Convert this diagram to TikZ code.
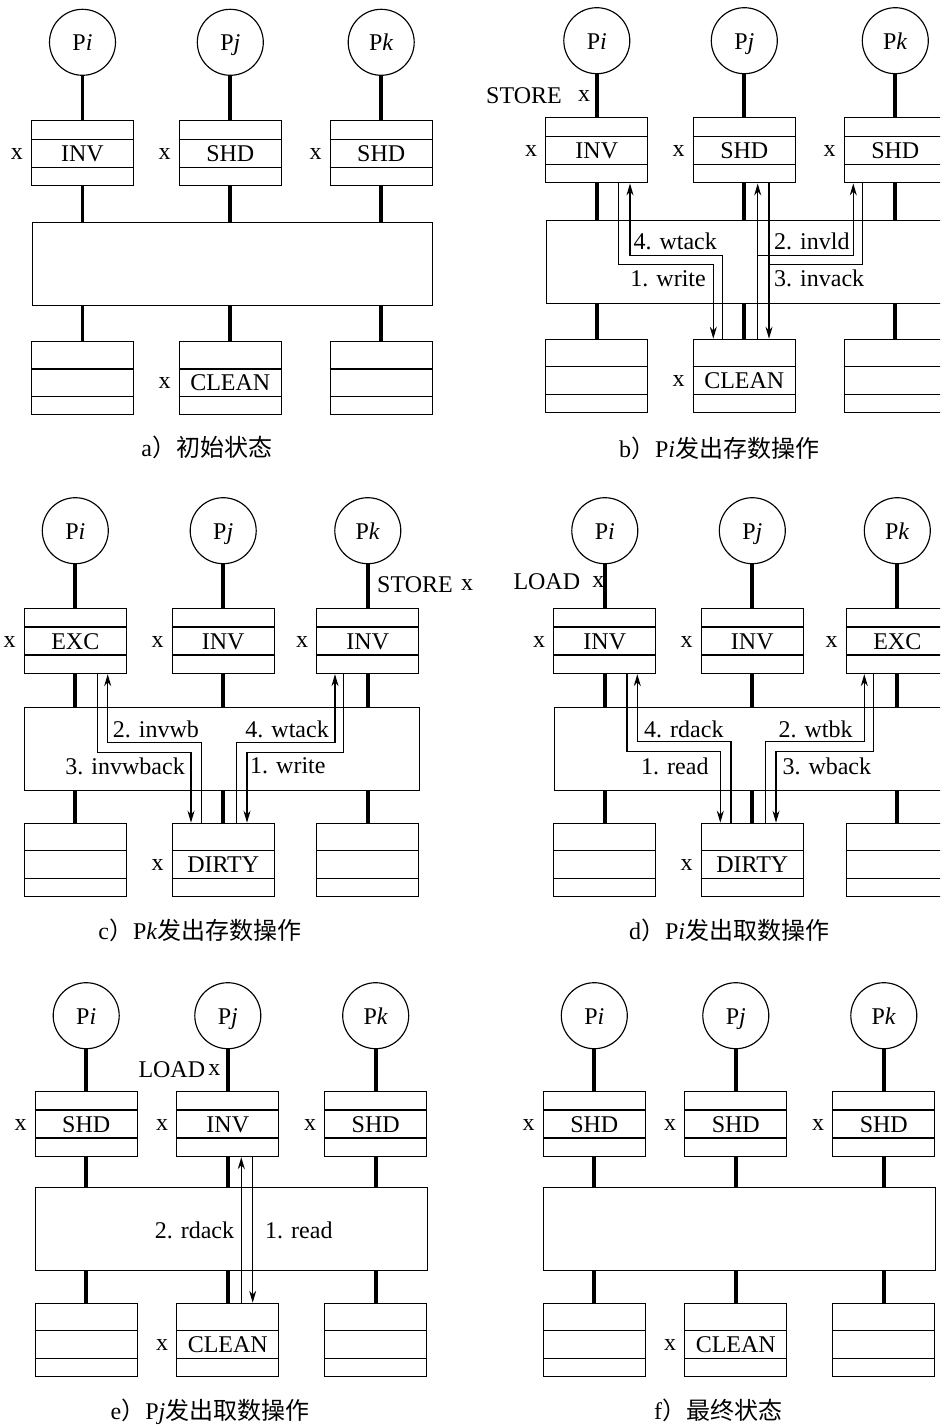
\documentclass[tikz,border=0pt]{standalone}
\usepackage{fontspec}
\setmainfont{Liberation Serif}
\newfontfamily\cjk{Noto Sans CJK SC}
\usetikzlibrary{arrows.meta}
\tikzset{
  thinln/.style={line width=1.15pt},
  proc/.style={circle, draw, thinln, minimum size=66pt, inner sep=0pt, text height=16.8pt, text depth=0pt},
  cachebox/.style={rectangle, draw, thinln, minimum width=102pt, minimum height=65pt, inner sep=0pt, anchor=north},
  membox/.style={rectangle, draw, thinln, minimum width=102pt, minimum height=73pt, inner sep=0pt, anchor=north},
  busbox/.style={rectangle, draw, thinln, minimum height=83pt, inner sep=0pt, anchor=north west},
  link/.style={line width=3.8pt},
  msg/.style={thinln, -{Stealth[length=12pt,width=7pt]}},
  wire/.style={thinln},
  lbl/.style={inner sep=0pt},
  captext/.style={inner sep=0pt, anchor=base},
}
\newcommand\drawpanel[8]{%
  \pgfmathsetmacro\busw{#4-#2+102}
  \node[busbox, minimum width=\busw pt] (#1bus) at (#2-51,#7) {};
  \foreach \k/\xx/\nm/\st in {1/#2/i/\sA, 2/#3/j/\sB, 3/#4/k/\sC} {
    \node[proc] (#1p\k) at (\xx,#5) {P\textit{\nm}};
    \node[cachebox] (#1c\k) at (\xx,#6) {};
    \draw[thinln] ([yshift=-19pt]#1c\k.north west) -- ([yshift=-19pt]#1c\k.north east);
    \draw[thinln] ([yshift=-47pt]#1c\k.north west) -- ([yshift=-47pt]#1c\k.north east);
    \node[lbl] (#1s\k) at ([yshift=-33.5pt]#1c\k.north) {\st};
    \node[lbl] (#1x\k) at ([xshift=-14pt,yshift=-33.5pt]#1c\k.north west) {x};
    \node[membox] (#1m\k) at (\xx,#8) {};
    \draw[thinln] ([yshift=-28pt]#1m\k.north west) -- ([yshift=-28pt]#1m\k.north east);
    \draw[thinln] ([yshift=-55.7pt]#1m\k.north west) -- ([yshift=-55.7pt]#1m\k.north east);
    \draw[link] (#1p\k.south) -- (#1c\k.north);
    \draw[link] (#1c\k.south) -- (#1c\k.south |- #1bus.north);
    \draw[link] (#1m\k.north |- #1bus.south) -- (#1m\k.north);
  }
  \node[lbl] (#1ms) at ([yshift=-42pt]#1m2.north) {\sM};
  \node[lbl] (#1mx) at ([xshift=-14pt,yshift=-42pt]#1m2.north west) {x};
}
\begin{document}
\begin{tikzpicture}[x=1pt,y=-1pt,font=\fontsize{24}{28}\selectfont]
\useasboundingbox (0,0) rectangle (940,1426);
\clip (0,0) rectangle (940,1426);
\fill[white] (0,0) rectangle (940,1426);

% ---------- a ----------
\def\sA{INV}\def\sB{SHD}\def\sC{SHD}\def\sM{CLEAN}
\drawpanel{a}{82.5}{230.3}{381.2}{42.3}{120.3}{222}{341}
\node[captext] (capa) at (206.7,456.7) {a{\cjk）初始状态}};

% ---------- b ----------
\def\sA{INV}\def\sB{SHD}\def\sC{SHD}\def\sM{CLEAN}
\drawpanel{b}{596.8}{744.3}{895.3}{40.7}{117.3}{219.7}{338.7}
\node[lbl, anchor=west] (bst) at (486,96) {STORE};
\node[lbl] (bstx) at (584,96) {x};
\draw[msg] (618.3,0 |- bc1.south) |- (713.3,264.5) -- (713.3,0 |- bm2.north);
\draw[msg] (722.7,0 |- bm2.north) |- (630,255.5) -- (630,0 |- bc1.south);
\draw[msg] (757.7,0 |- bm2.north) -- (757.7,0 |- bc2.south);
\coordinate (bj1) at (757.7,255.5);
\draw[msg] (bj1) -| (853.3,0 |- bc3.south);
\draw[wire] (862.7,0 |- bc3.south) |- (769,264.5);
\draw[msg] (769,0 |- bc2.south) -- (769,0 |- bm2.north);
\node[lbl, anchor=west] (bl4) at (633.3,241.7) {4. wtack};
\node[lbl, anchor=east] (bl1) at (706,278.3) {1. write};
\node[lbl, anchor=west] (bl2) at (774,241.7) {2. invld};
\node[lbl, anchor=west] (bl3) at (774,278.3) {3. invack};
\node[captext] (capb) at (719,457) {b{\cjk）}P\textit{i}{\cjk 发出存数操作}};

% ---------- c ----------
\def\sA{EXC}\def\sB{INV}\def\sC{INV}\def\sM{DIRTY}
\drawpanel{c}{75.3}{223.2}{367.8}{530.7}{608}{707.3}{822.7}
\node[lbl, anchor=west] (cst) at (377,585) {STORE};
\node[lbl] (cstx) at (467,585) {x};
\draw[msg] (201.3,0 |- cm2.north) |- (107.7,742.3) -- (107.7,0 |- cc1.south);
\draw[msg] (97.7,0 |- cc1.south) |- (191,752.7) -- (191,0 |- cm2.north);
\draw[msg] (236.3,0 |- cm2.north) |- (335,742.3) -- (335,0 |- cc3.south);
\draw[msg] (343.7,0 |- cc3.south) |- (247,752.7) -- (247,0 |- cm2.north);
\node[lbl, anchor=west] (cl2) at (112.7,729.3) {2. invwb};
\node[lbl, anchor=east] (cl3) at (185,766) {3. invwback};
\node[lbl, anchor=east] (cl4) at (329,729.3) {4. wtack};
\node[lbl, anchor=west] (cl1) at (250,766) {1. write};
\node[captext] (capc) at (200,939) {c{\cjk）}P\textit{k}{\cjk 发出存数操作}};

% ---------- d ----------
\def\sA{INV}\def\sB{INV}\def\sC{EXC}\def\sM{DIRTY}
\drawpanel{d}{604.8}{752.3}{897.3}{530.7}{608}{707.3}{822.7}
\node[lbl, anchor=west] (dld) at (513.3,582) {LOAD};
\node[lbl] (dldx) at (598.3,582) {x};
\draw[msg] (627,0 |- dc1.south) |- (720.3,751.7) -- (720.3,0 |- dm2.north);
\draw[msg] (731,0 |- dm2.north) |- (637.3,741.7) -- (637.3,0 |- dc1.south);
\draw[msg] (765.7,0 |- dm2.north) |- (864.3,741.7) -- (864.3,0 |- dc3.south);
\draw[msg] (873.3,0 |- dc3.south) |- (776,751.7) -- (776,0 |- dm2.north);
\node[lbl, anchor=west] (dl4) at (644,729.3) {4. rdack};
\node[lbl, anchor=east] (dl1) at (708.7,766) {1. read};
\node[lbl, anchor=east] (dl2) at (852.7,729.3) {2. wtbk};
\node[lbl, anchor=west] (dl3) at (782.3,766) {3. wback};
\node[captext] (capd) at (729,939) {d{\cjk）}P\textit{i}{\cjk 发出取数操作}};

% ---------- e ----------
\def\sA{SHD}\def\sB{INV}\def\sC{SHD}\def\sM{CLEAN}
\drawpanel{e}{86.2}{227.8}{375.7}{1015.7}{1091}{1186.7}{1302.7}
\node[lbl, anchor=west] (eld) at (138.3,1070) {LOAD};
\node[lbl] (eldx) at (214.3,1070) {x};
\draw[msg] (241.3,0 |- em2.north) -- (241.3,0 |- ec2.south);
\draw[msg] (252.7,0 |- ec2.south) -- (252.7,0 |- em2.north);
\node[lbl, anchor=east] (el2) at (234.3,1230.7) {2. rdack};
\node[lbl, anchor=west] (el1) at (265,1230.7) {1. read};
\node[captext] (cape) at (210,1419) {e{\cjk）}P\textit{j}{\cjk 发出取数操作}};

% ---------- f ----------
\def\sA{SHD}\def\sB{SHD}\def\sC{SHD}\def\sM{CLEAN}
\drawpanel{f}{594.3}{735.8}{883.8}{1015.7}{1091}{1186.7}{1302.7}
\node[captext] (capf) at (718,1419) {f{\cjk）最终状态}};
\end{tikzpicture}
\end{document}
